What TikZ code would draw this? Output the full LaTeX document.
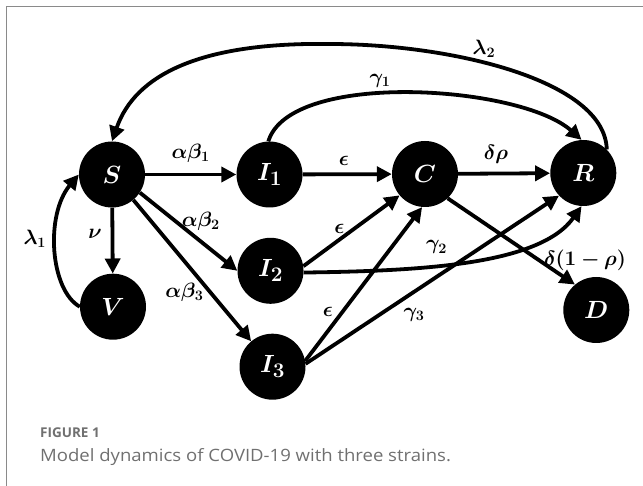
\documentclass[tikz,border=0pt]{standalone}
\usepackage{fontspec}
\usepackage{graphicx}
\usepackage{bm}
\setsansfont{Open Sans}
\usetikzlibrary{arrows.meta}
\definecolor{framegray}{HTML}{8A8A8A}
\definecolor{capgray}{HTML}{707070}
\begin{document}
\begin{tikzpicture}[x=1pt,y=-1pt,
  comp/.style={circle,fill=black,minimum size=66pt,inner sep=0pt,text=white,font=\fontsize{30}{30}\selectfont},
  flow/.style={line width=3.8pt,-{Triangle[length=15pt,width=15pt]}},
  lab/.style={font=\fontsize{20}{20}\selectfont,inner sep=0pt}]
\useasboundingbox (0,0) rectangle (643,486);
\draw[framegray,line width=1.8pt] (6.5,486) -- (6.5,6.5) -- (643,6.5);
% compartments
\node[comp] (S) at (112,174.5) {$\bm{S}$};
\node[comp] (I1) at (269.5,174.5) {$\bm{I_1}$};
\node[comp] (C) at (425,174) {$\bm{C}$};
\node[comp] (R) at (583.3,173) {$\bm{R}$};
\node[comp] (V) at (113,306.7) {$\bm{V}$};
\node[comp] (I2) at (270.5,270.8) {$\bm{I_2}$};
\node[comp] (I3) at (272.5,366.7) {$\bm{I_3}$};
\node[comp] (D) at (596.3,310) {$\bm{D}$};
% flows
\draw[flow] (S) -- (I1);
\draw[flow] (I1) -- (C);
\draw[flow] (C) -- (R);
\draw[flow] (S) -- (V);
\draw[flow] (S.-33) -- (I2.west);
\draw[flow] (S.-50) -- (I3.130);
\draw[flow] (I2.8) -- (C.-140);
\draw[flow] (I3.10) -- (C.-95);
\draw[flow] (I3.5) -- (R.-137);
\draw[flow] (C.-47) -- (D.130);
\draw[flow] (I2.-3) .. controls (420,271) and (540,265) .. (R.-93);
\draw[flow] (I1.92) .. controls (290,70) and (520,85) .. (R.93);
\draw[flow] (R.45) .. controls (605,80) and (450,44) .. (330,44) .. controls (200,42) and (135,75) .. (S.north);
\draw[flow] (V.west) .. controls (50,290) and (45,215) .. (S.west);
% labels
\node[lab] (lab1) at (190.6,153) {$\bm{\alpha\beta_1}$};
\node[lab] (lab2) at (344,160.5) {$\bm{\epsilon}$};
\node[lab] (lab3) at (496,154.6) {$\bm{\delta\rho}$};
\node[lab] (lab4) at (380,81) {$\bm{\gamma_1}$};
\node[lab] (lab5) at (484,49) {$\bm{\lambda_2}$};
\node[lab] (lab6) at (34.8,239) {$\bm{\lambda_1}$};
\node[lab] (lab7) at (95,234) {$\bm{\nu}$};
\node[lab] (lab8) at (200.8,221) {$\bm{\alpha\beta_2}$};
\node[lab] (lab9) at (184.4,292) {$\bm{\alpha\beta_3}$};
\node[lab] (lab10) at (339.3,229) {$\bm{\epsilon}$};
\node[lab] (lab11) at (436.5,247.4) {$\bm{\gamma_2}$};
\node[lab] (lab12) at (585,260.6) {$\bm{\delta(1-\rho)}$};
\node[lab] (lab13) at (328,311.6) {$\bm{\epsilon}$};
\node[lab] (lab14) at (414,315) {$\bm{\gamma_3}$};
% caption
\node[anchor=base west,inner sep=0pt,text=capgray,font=\sffamily\bfseries\fontsize{13.5}{14}\selectfont] (fig) at (40,437) {FIGURE 1};
\node[anchor=base west,inner sep=0pt,text=capgray,font=\sffamily\fontsize{17}{18}\selectfont] (cap) at (40,461) {\scalebox{1.09}[1]{Model dynamics of COVID-19 with three strains.}};
\end{tikzpicture}
\end{document}
